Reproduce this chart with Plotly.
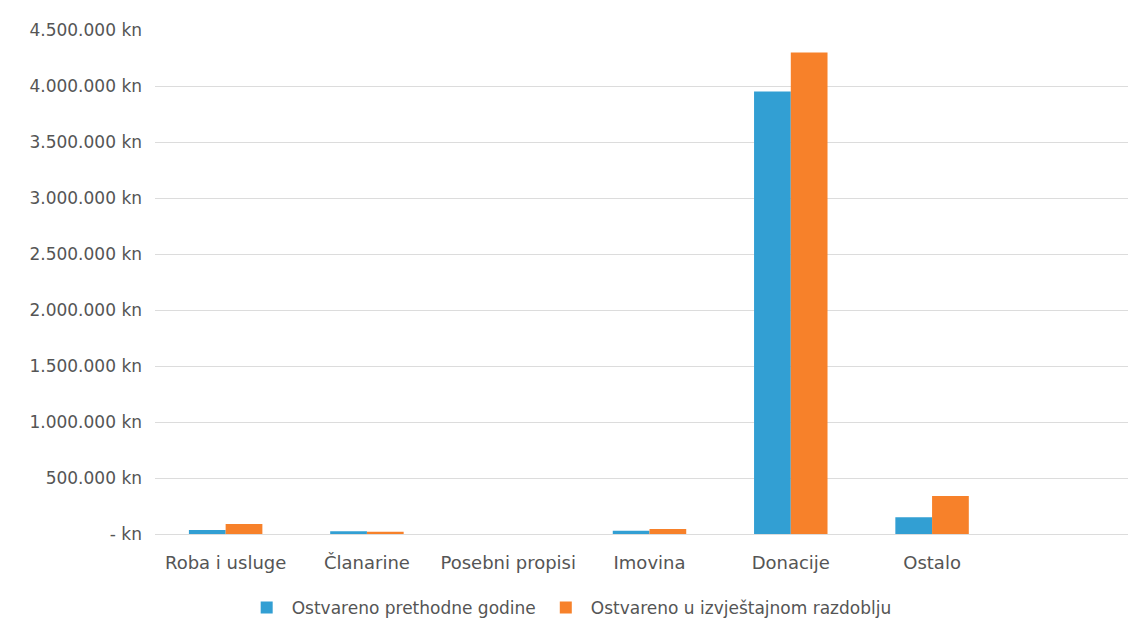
import plotly.graph_objects as go

categories = ["Roba i usluge", "Članarine", "Posebni propisi", "Imovina", "Donacije", "Ostalo"]
prev_year = [35000, 25000, 0, 30000, 3950000, 150000]
current_period = [90000, 20000, 0, 45000, 4300000, 340000]
series_names = ["Ostvareno prethodne godine", "Ostvareno u izvještajnom razdoblju"]
tick_values = [0, 500000, 1000000, 1500000, 2000000, 2500000, 3000000, 3500000, 4000000, 4500000]


def fmt(v):
    if v == 0:
        return "- kn"
    return f"{v:,}".replace(",", ".") + " kn"


tick_text = [fmt(v) for v in tick_values]

fig = go.Figure()
fig.add_trace(go.Bar(x=categories, y=prev_year, name=series_names[0],
                     marker=dict(color="#329fd3", line=dict(width=0))))
fig.add_trace(go.Bar(x=categories, y=current_period, name=series_names[1],
                     marker=dict(color="#f7812a", line=dict(width=0))))

fig.update_layout(
    width=1136, height=627,
    paper_bgcolor="white", plot_bgcolor="white",
    font=dict(family="DejaVu Sans", size=18, color="#555555"),
    barmode="group", bargap=0.48, bargroupgap=0,
    margin=dict(l=147, r=0, t=22, b=101),
    showlegend=True,
    legend=dict(orientation="h", xref="container", yref="container",
                x=0.494, xanchor="center", y=0.043, yanchor="middle",
                font=dict(size=17, color="#555555"), itemwidth=40),
    hovermode=False,
)
fig.update_xaxes(type="category", range=[-0.5, 6.5], showgrid=False,
                 showline=False, ticks="", ticklabelstandoff=16,
                 tickfont=dict(size=18, color="#555555"))
fig.update_yaxes(range=[0, 4500000], tickvals=tick_values, ticktext=tick_text,
                 showgrid=True, gridcolor="#dcdcdc", gridwidth=1,
                 zeroline=True, zerolinecolor="#dcdcdc", zerolinewidth=1,
                 showline=False, ticks="", ticklabelstandoff=12,
                 tickfont=dict(size=17, color="#555555"))

fig.write_html("out.html")
